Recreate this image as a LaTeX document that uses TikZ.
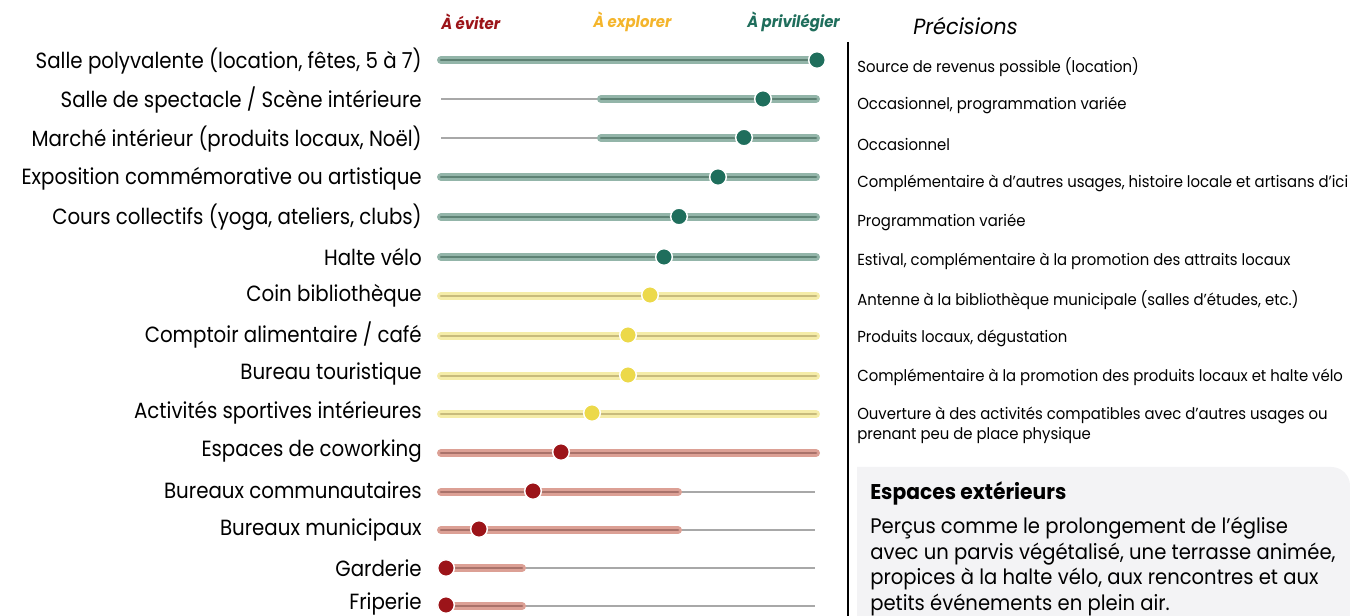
\documentclass[tikz,border=0pt]{standalone}
\usepackage{fontspec}
\setmainfont{Poppins}[FakeStretch=0.9]
\newfontfamily\notefont{Poppins}[FakeStretch=0.93]
\newfontfamily\widefont{Poppins}[FakeStretch=0.95]
\usepackage{xcolor}
\usepackage{tikz}

\definecolor{grnlt}{HTML}{93B5A9}
\definecolor{grndk}{HTML}{5E8274}
\definecolor{grndot}{HTML}{1F6E5C}
\definecolor{ylwlt}{HTML}{F5ECA8}
\definecolor{ylwdk}{HTML}{C8BB7C}
\definecolor{ylwdot}{HTML}{ECD94A}
\definecolor{redlt}{HTML}{DCA095}
\definecolor{reddk}{HTML}{A9726A}
\definecolor{reddot}{HTML}{9C1419}
\definecolor{trackc}{HTML}{A8A8A8}
\definecolor{boxbg}{HTML}{F3F3F5}

\begin{document}
\begin{tikzpicture}[x=0.75pt, y=-0.75pt,
  lbl/.style={anchor=east, inner sep=0pt, font=\fontsize{16.5}{19}\selectfont},
  note/.style={anchor=west, inner sep=0pt, align=left, font=\notefont\fontsize{12}{15}\selectfont},
  hdr/.style={anchor=west, inner sep=0pt, font=\notefont\fontsize{12}{14}\selectfont\bfseries\itshape},
  track/.style={draw=trackc, line width=1.5pt},
  bar/.style={draw=#1lt, double=#1dk, line width=1.9pt, double distance=2.2pt, line cap=round},
  dot/.style={circle, fill=#1dot, draw=white, line width=1.1pt, minimum size=12.5pt, inner sep=0pt}]
\useasboundingbox (0,0) rectangle (1350,616);

% Scale headers
\node[hdr, text=reddot] (eviter) at (441,22) {À éviter};
\node[hdr, text=ylwdot!60!orange] (explorer) at (593,22) {À explorer};
\node[hdr, text=grndot] (privil) at (747,22) {À privilégier};
\node[anchor=west, inner sep=0pt, font=\widefont\fontsize{16.5}{19}\selectfont\itshape] (precis) at (913,26) {Précisions};

% Separator
\draw[line width=2.2pt] (848,42) -- (848,616);

% Green rows
\node[lbl] (salle) at (422,61.5) {Salle polyvalente (location, fêtes, 5 à 7)};
\draw[bar=grn] (441,60) -- (816,60);
\node[dot=grn] (salle-d) at (817,60) {};
\node[note] (salle-n) at (857,67) {Source de revenus possible (location)};

\node[lbl] (scene) at (422,100.5) {Salle de spectacle / Scène intérieure};
\draw[track] (441,99) -- (815,99);
\draw[bar=grn] (601,99) -- (816,99);
\node[dot=grn] (scene-d) at (763,99) {};
\node[note] (scene-n) at (857,105) {Occasionnel, programmation variée};

\node[lbl] (marche) at (422,139.5) {Marché intérieur (produits locaux, Noël)};
\draw[track] (441,138) -- (815,138);
\draw[bar=grn] (601,138) -- (816,138);
\node[dot=grn] (marche-d) at (744,137.5) {};
\node[note] (marche-n) at (857,144) {Occasionnel};

\node[lbl] (expo) at (422,178.5) {Exposition commémorative ou artistique};
\draw[bar=grn] (441,177) -- (816,177);
\node[dot=grn] (expo-d) at (718,177) {};
\node[note] (expo-n) at (857,183) {Complémentaire à d’autres usages, histoire locale et artisans d’ici};

\node[lbl] (cours) at (422,217.5) {Cours collectifs (yoga, ateliers, clubs)};
\draw[bar=grn] (441,217) -- (816,217);
\node[dot=grn] (cours-d) at (679,216.5) {};
\node[note] (cours-n) at (857,222) {Programmation variée};

\node[lbl] (halte) at (422,256.5) {Halte vélo};
\draw[bar=grn] (441,257) -- (816,257);
\node[dot=grn] (halte-d) at (664,257) {};
\node[note] (halte-n) at (857,261) {Estival, complémentaire à la promotion des attraits locaux};

% Yellow rows
\node[lbl] (biblio) at (422,295.5) {Coin bibliothèque};
\draw[bar=ylw] (441,296) -- (816,296);
\node[dot=ylw] (biblio-d) at (650,295) {};
\node[note] (biblio-n) at (857,300) {Antenne à la bibliothèque municipale (salles d’études, etc.)};

\node[lbl] (comptoir) at (422,334.5) {Comptoir alimentaire / café};
\draw[bar=ylw] (441,336) -- (816,336);
\node[dot=ylw] (comptoir-d) at (628,335) {};
\node[note] (comptoir-n) at (857,338) {Produits locaux, dégustation};

\node[lbl] (touris) at (422,373.5) {Bureau touristique};
\draw[bar=ylw] (441,376) -- (816,376);
\node[dot=ylw] (touris-d) at (628,375) {};
\node[note] (touris-n) at (857,377) {Complémentaire à la promotion des produits locaux et halte vélo};

\node[lbl] (sport) at (422,412.5) {Activités sportives intérieures};
\draw[bar=ylw] (441,414) -- (816,414);
\node[dot=ylw] (sport-d) at (592,413) {};
\node[note] (sport-n) at (857,425) {Ouverture à des activités compatibles avec d’autres usages ou\\prenant peu de place physique};

% Red rows
\node[lbl] (cowork) at (422,451.5) {Espaces de coworking};
\draw[bar=red] (441,453) -- (816,453);
\node[dot=red] (cowork-d) at (561,452) {};

\node[lbl] (commu) at (422,490.5) {Bureaux communautaires};
\draw[track] (441,492) -- (815,492);
\draw[bar=red] (441,492) -- (678,492);
\node[dot=red] (commu-d) at (533,491) {};

\node[lbl] (munic) at (422,529.5) {Bureaux municipaux};
\draw[track] (441,530) -- (815,530);
\draw[bar=red] (441,530) -- (678,530);
\node[dot=red] (munic-d) at (479,529) {};

\node[lbl] (garde) at (422,568.5) {Garderie};
\draw[track] (441,568) -- (815,568);
\draw[bar=red] (441,568) -- (522,568);
\node[dot=red] (garde-d) at (446,568) {};

\node[lbl] (fripe) at (422,603.5) {Friperie};
\draw[track] (441,606) -- (815,606);
\draw[bar=red] (441,606) -- (522,606);
\node[dot=red] (fripe-d) at (446,605) {};

% Outdoor box
\fill[boxbg] (1350,616) -- (857,616) -- (857,467) [rounded corners=14pt] -- (1350,467) [sharp corners] -- cycle;
\node[anchor=west, inner sep=0pt, font=\widefont\fontsize{16}{19}\selectfont\bfseries] (ext) at (870,493) {Espaces extérieurs};
\node[anchor=north west, inner sep=0pt, align=left, font=\notefont\fontsize{15.8}{19.2}\selectfont] (ext-txt) at (870,517)
  {Perçus comme le prolongement de l’église\\avec un parvis végétalisé, une terrasse animée,\\propices à la halte vélo, aux rencontres et aux\\petits événements en plein air.};
\end{tikzpicture}
\end{document}
